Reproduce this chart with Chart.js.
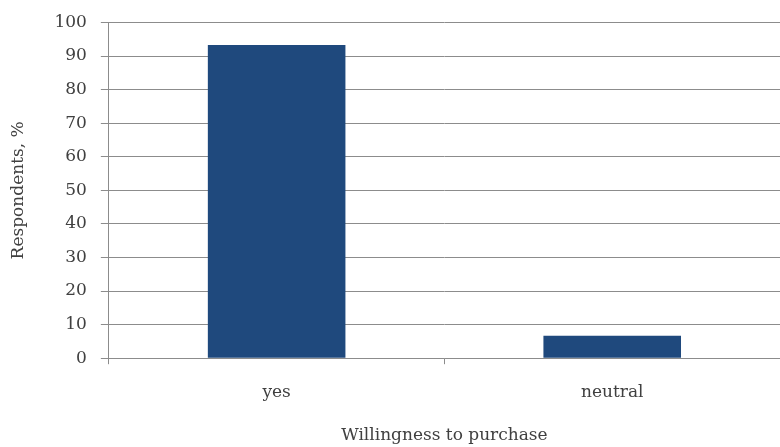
<!DOCTYPE html>
<html>
<head>
<meta charset="utf-8">
<script src="https://cdn.jsdelivr.net/npm/chart.js@4/dist/chart.umd.min.js"></script>
<style>
    html, body { margin: 0; padding: 0; background: #fff; }
    #wrap { width: 780px; height: 447px; }
</style>
</head>
<body>
<div id="wrap"><canvas id="purchaseChart" width="780" height="447"></canvas></div>
<script>
// Chart data
const categories = ['yes', 'neutral'];
const respondents = [93.3, 6.7];
const yTicks = [0, 10, 20, 30, 40, 50, 60, 70, 80, 90, 100];

const FONT = 'DejaVu Serif';
const AXIS_GREY = '#8c8c8c';

const ctx = document.getElementById('purchaseChart');

new Chart(ctx, {
    type: 'bar',
    data: {
        labels: categories,
        datasets: [{
            label: 'Respondents, %',
            data: respondents,
            backgroundColor: '#1f497d',
            borderColor: '#1f497d',
            borderWidth: 0,
            categoryPercentage: 0.41,
            barPercentage: 1.0
        }]
    },
    options: {
        responsive: false,
        animation: false,
        layout: {
            padding: { top: 0, right: 0, bottom: 1, left: 8 }
        },
        plugins: {
            legend: { display: false },
            tooltip: { enabled: false }
        },
        scales: {
            y: {
                min: 0,
                max: 100,
                afterBuildTicks: axis => {
                    axis.ticks = yTicks.map(v => ({ value: v }));
                },
                ticks: {
                    color: '#404040',
                    padding: 14,
                    font: { family: FONT, size: 17, lineHeight: 1 }
                },
                grid: {
                    color: AXIS_GREY,
                    lineWidth: 1,
                    tickLength: 8
                },
                border: { color: AXIS_GREY },
                title: {
                    display: true,
                    text: 'Respondents, %',
                    color: '#404040',
                    padding: { top: 0, bottom: 12 },
                    font: { family: FONT, size: 17 }
                }
            },
            x: {
                ticks: {
                    color: '#404040',
                    padding: 18,
                    font: { family: FONT, size: 17 }
                },
                grid: {
                    offset: true,
                    drawOnChartArea: false,
                    color: AXIS_GREY,
                    tickLength: 6
                },
                border: { color: AXIS_GREY },
                title: {
                    display: true,
                    text: 'Willingness to purchase',
                    color: '#404040',
                    padding: { top: 5, bottom: 0 },
                    font: { family: FONT, size: 17 }
                }
            }
        }
    }
});
</script>
</body>
</html>
